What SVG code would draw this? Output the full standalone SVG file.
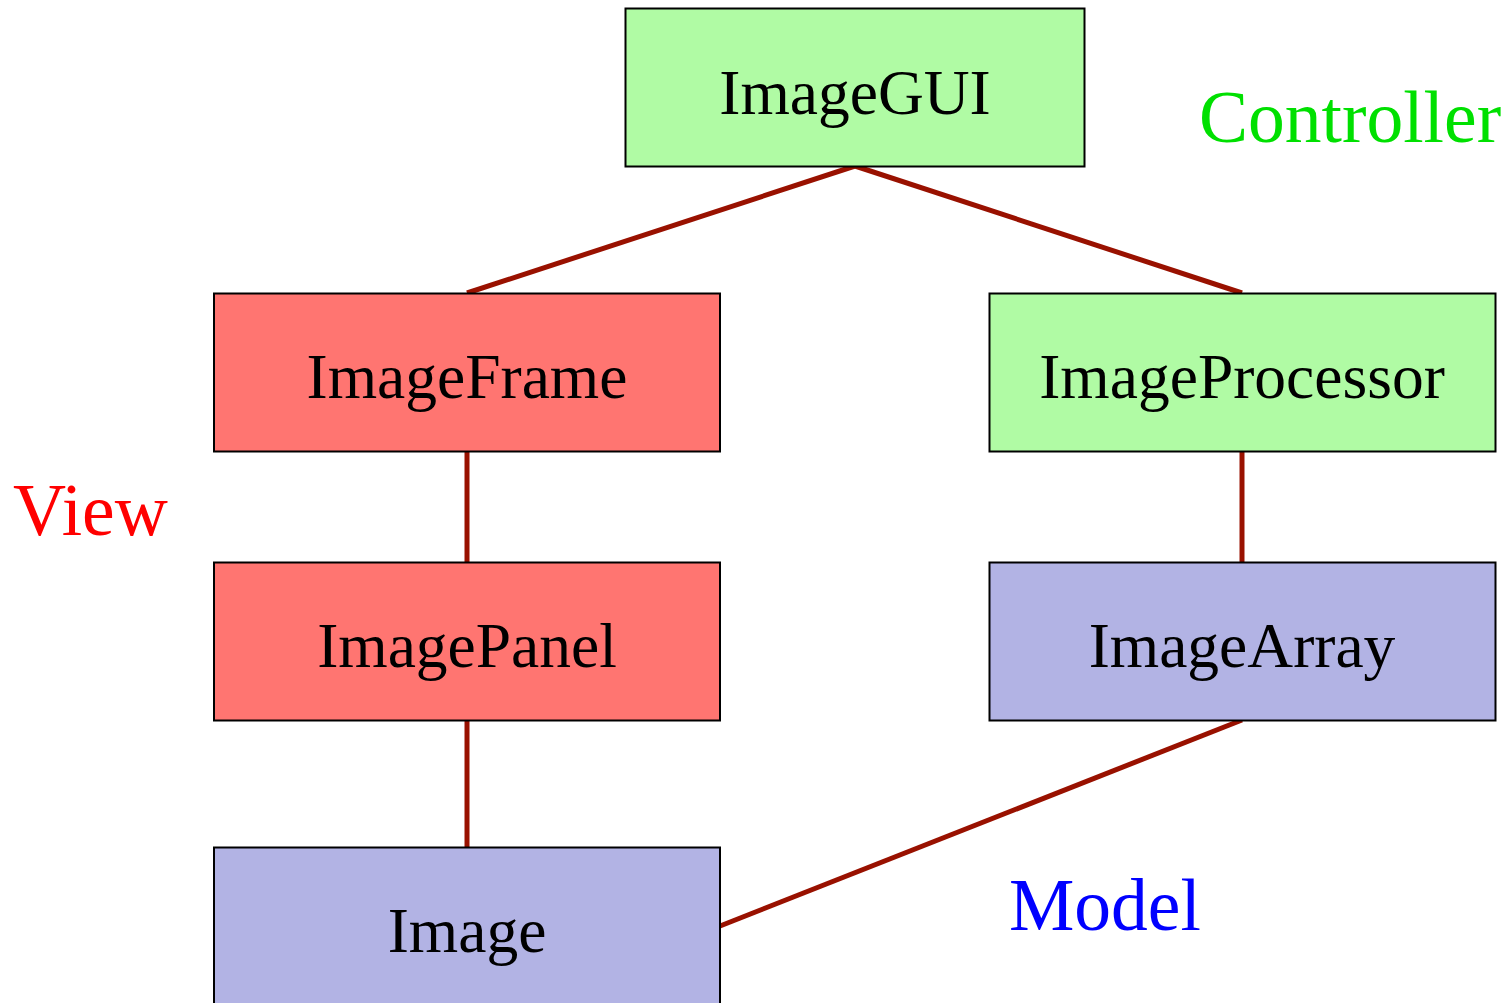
<svg xmlns="http://www.w3.org/2000/svg" width="1510" height="1003" viewBox="0 0 1510 1003">
<style>
.box{stroke:#000;stroke-width:2}
.ctl{fill:#B0FBA4}
.view{fill:#FF7571}
.model{fill:#B2B3E4}
.t{font-family:"Liberation Serif","Times New Roman",serif;font-size:63.5px;fill:#000;text-anchor:middle}
.lbl{font-family:"Liberation Serif","Times New Roman",serif;font-size:73.5px}
.edge{stroke:#991100;stroke-width:5;fill:none}
</style>
<rect width="1510" height="1003" fill="#fff"/>
<g id="connectors">
<line class="edge" x1="855" y1="166" x2="467" y2="293"/>
<line class="edge" x1="855" y1="166" x2="1242" y2="293"/>
<line class="edge" x1="467" y1="451" x2="467" y2="562"/>
<line class="edge" x1="1242" y1="451" x2="1242" y2="562"/>
<line class="edge" x1="467" y1="720" x2="467" y2="847"/>
<line class="edge" x1="1242" y1="720" x2="720" y2="926"/>
</g>
<g id="ImageGUI"><rect class="box ctl" x="625.5" y="8.5" width="459" height="158"/><text class="t" x="855" y="114">ImageGUI</text></g>
<g id="ImageFrame"><rect class="box view" x="214" y="293.5" width="506" height="158"/><text class="t" x="467" y="398">ImageFrame</text></g>
<g id="ImageProcessor"><rect class="box ctl" x="989.5" y="293.5" width="506" height="158"/><text class="t" x="1242" y="398">ImageProcessor</text></g>
<g id="ImagePanel"><rect class="box view" x="214" y="562.5" width="506" height="158"/><text class="t" x="467" y="667">ImagePanel</text></g>
<g id="ImageArray"><rect class="box model" x="989.5" y="562.5" width="506" height="158"/><text class="t" x="1242" y="667">ImageArray</text></g>
<g id="Image"><rect class="box model" x="214" y="847.5" width="506" height="158"/><text class="t" x="467" y="952">Image</text></g>
<text class="lbl" x="1199" y="142" fill="#00E000">Controller</text>
<text class="lbl" x="13" y="535" fill="#FF0000">View</text>
<text class="lbl" x="1009" y="930" fill="#0000FF">Model</text>
</svg>
